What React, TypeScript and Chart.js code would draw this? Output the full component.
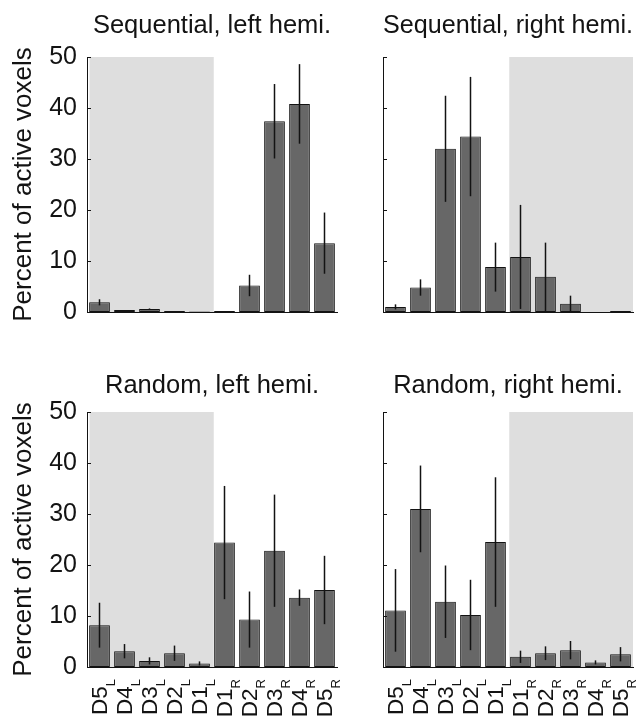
import React, { useEffect, useRef } from 'react';
import { Chart, registerables } from 'chart.js';

Chart.register(...registerables);

// ---- data ----
const fingerLabels = ['D5', 'D4', 'D3', 'D2', 'D1', 'D1', 'D2', 'D3', 'D4', 'D5'];
const sideLabels = ['L', 'L', 'L', 'L', 'L', 'R', 'R', 'R', 'R', 'R'];
const yTickValues = [0, 10, 20, 30, 40, 50];
const yAxisTitle = 'Percent of active voxels';

const seqLeftValues = [1.9, 0.4, 0.6, 0.2, 0.1, 0.2, 5.2, 37.4, 40.8, 13.5];
const seqLeftErrors = [0.6, 0, 0.1, 0, 0, 0, 2.1, 7.3, 7.8, 6.0];
const seqRightValues = [1.0, 4.8, 32.0, 34.4, 8.8, 10.8, 6.9, 1.6, 0, 0.2];
const seqRightErrors = [0.5, 1.6, 10.4, 11.7, 4.8, 10.2, 6.7, 1.6, 0, 0];
const randLeftValues = [8.2, 3.1, 1.2, 2.7, 0.7, 24.4, 9.3, 22.8, 13.6, 15.1];
const randLeftErrors = [4.4, 1.4, 0.7, 1.5, 0.4, 11.1, 5.5, 11.0, 1.6, 6.7];
const randRightValues = [11.1, 31.0, 12.8, 10.2, 24.5, 2.0, 2.7, 3.3, 0.9, 2.5];
const randRightErrors = [8.1, 8.5, 7.1, 6.9, 12.7, 1.2, 1.35, 1.8, 0.4, 1.4];

const FONT = '"Liberation Sans", Arial, Helvetica, sans-serif';
const BAR_FILL = '#676767';
const INK = '#131313';
const SHADE = '#dedede';

type PanelCfg = {
  title: string;
  values: number[];
  errors: number[];
  shade: [number, number];
  showY: boolean;
  showX: boolean;
  left: number;
  top: number;
  width: number;
  height: number;
  yWidth: number;
  padRight: number;
  padBottom: number;
  titlePad: [number, number];
};

function Panel(p: PanelCfg) {
  const ref = useRef<HTMLCanvasElement>(null);
  useEffect(() => {
    if (!ref.current) return;
    const decor = {
      id: 'decor',
      beforeDraw(chart: any) {
        const { ctx } = chart;
        const xs = chart.scales.x;
        const ys = chart.scales.y;
        const x1 = xs.getPixelForValue(p.shade[0]);
        const x2 = xs.getPixelForValue(p.shade[1]);
        const yt = ys.getPixelForValue(50);
        const yb = ys.getPixelForValue(0);
        ctx.save();
        ctx.fillStyle = SHADE;
        ctx.fillRect(x1, yt, x2 - x1, yb - yt);
        ctx.restore();
      },
      afterDatasetsDraw(chart: any) {
        const { ctx, chartArea } = chart;
        const ys = chart.scales.y;
        const meta = chart.getDatasetMeta(0);
        ctx.save();
        ctx.strokeStyle = INK;
        ctx.lineWidth = 1.5;
        meta.data.forEach((bar: any, i: number) => {
          const v = p.values[i];
          const e = p.errors[i];
          if (!e) return;
          const y1 = ys.getPixelForValue(v + e);
          const y2 = ys.getPixelForValue(Math.max(0, v - e));
          ctx.beginPath();
          ctx.moveTo(bar.x, y1);
          ctx.lineTo(bar.x, y2);
          ctx.stroke();
        });
        // inward tick marks
        ctx.lineWidth = 1;
        yTickValues.forEach((v) => {
          const y = Math.round(ys.getPixelForValue(v)) + 0.5;
          ctx.beginPath();
          ctx.moveTo(chartArea.left, y);
          ctx.lineTo(chartArea.left + 4, y);
          ctx.stroke();
        });
        ctx.restore();
      },
      afterDraw(chart: any) {
        if (!p.showX) return;
        const { ctx, chartArea } = chart;
        const xs = chart.scales.x;
        fingerLabels.forEach((f, i) => {
          const cx = xs.getPixelForValue(i);
          ctx.save();
          ctx.translate(cx, chartArea.bottom + 12);
          ctx.rotate(-Math.PI / 2);
          ctx.fillStyle = INK;
          ctx.textAlign = 'right';
          ctx.textBaseline = 'alphabetic';
          ctx.font = `13px ${FONT}`;
          const sw = ctx.measureText(sideLabels[i]).width;
          ctx.fillText(sideLabels[i], 0, 15.5);
          ctx.font = `22.5px ${FONT}`;
          ctx.fillText(f, -sw, 7);
          ctx.restore();
        });
      },
    };

    const chart = new Chart(ref.current, {
      type: 'bar',
      data: {
        labels: fingerLabels.map((f, i) => f + sideLabels[i]),
        datasets: [
          {
            data: p.values,
            backgroundColor: BAR_FILL,
            borderColor: INK,
            borderWidth: 1,
            borderSkipped: false,
            barPercentage: 0.83,
            categoryPercentage: 1,
          },
        ],
      },
      options: {
        animation: false,
        responsive: false,
        devicePixelRatio: 1,
        layout: { padding: { left: 0, right: p.padRight, top: 0, bottom: p.padBottom } },
        plugins: {
          legend: { display: false },
          tooltip: { enabled: false },
          title: {
            display: true,
            text: p.title,
            fullSize: false,
            color: INK,
            font: { family: FONT, size: 25.5, weight: 'normal', lineHeight: '30px' },
            padding: { top: p.titlePad[0], bottom: p.titlePad[1] },
          },
        },
        scales: {
          x: {
            type: 'category',
            offset: true,
            grid: { display: false, drawTicks: false },
            ticks: { display: false },
            border: { display: true, color: INK, width: 1 },
            afterFit: (s: any) => {
              s.height = 0;
            },
          },
          y: {
            min: 0,
            max: 50,
            afterBuildTicks: (s: any) => {
              s.ticks = yTickValues.map((v) => ({ value: v }));
            },
            grid: { display: false, drawTicks: false },
            border: { display: true, color: INK, width: 1 },
            ticks: {
              display: p.showY,
              padding: 10,
              color: INK,
              font: { family: FONT, size: 25 },
            },
            title: {
              display: p.showY,
              text: yAxisTitle,
              color: INK,
              font: { family: FONT, size: 26, lineHeight: '30px' },
              padding: { top: 9, bottom: 0 },
            },
            afterFit: (s: any) => {
              s.width = p.yWidth;
            },
          },
        },
      } as any,
      plugins: [decor],
    });
    return () => chart.destroy();
  }, []);
  return (
    <canvas
      ref={ref}
      width={p.width}
      height={p.height}
      style={{ position: 'absolute', left: p.left, top: p.top, width: p.width, height: p.height, display: 'block' }}
    />
  );
}

const leftShade: [number, number] = [-0.4, 4.57];
const rightShade: [number, number] = [4.55, 9.5];

export default function App() {
  return (
    <div style={{ position: 'absolute', left: 0, top: 0, width: 642, height: 718, background: '#fff', overflow: 'hidden' }}>
      <Panel title="Sequential, left hemi." values={seqLeftValues} errors={seqLeftErrors} shade={leftShade}
        showY={true} showX={false} left={0} top={0} width={345} height={338} yWidth={87} padRight={8} padBottom={26} titlePad={[11, 16]} />
      <Panel title="Sequential, right hemi." values={seqRightValues} errors={seqRightErrors} shade={rightShade}
        showY={false} showX={false} left={345} top={0} width={297} height={338} yWidth={38} padRight={9} padBottom={26} titlePad={[11, 16]} />
      <Panel title="Random, left hemi." values={randLeftValues} errors={randLeftErrors} shade={leftShade}
        showY={true} showX={true} left={0} top={355} width={345} height={363} yWidth={87} padRight={8} padBottom={51} titlePad={[15.8, 11.2]} />
      <Panel title="Random, right hemi." values={randRightValues} errors={randRightErrors} shade={rightShade}
        showY={false} showX={true} left={345} top={355} width={297} height={363} yWidth={38} padRight={9} padBottom={51} titlePad={[15.8, 11.2]} />
    </div>
  );
}
